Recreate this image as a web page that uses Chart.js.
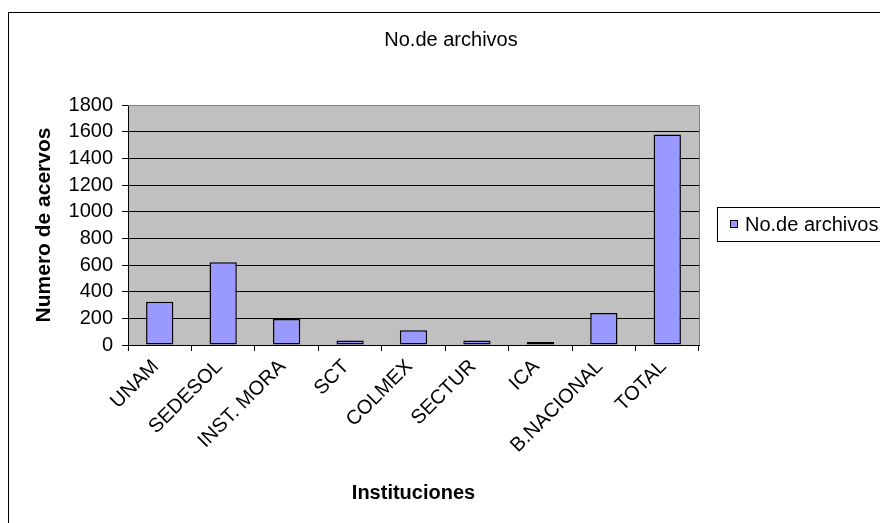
<!DOCTYPE html>
<html>
<head>
<meta charset="utf-8">
<script src="https://cdn.jsdelivr.net/npm/chart.js@4/dist/chart.umd.min.js"></script>
<style>
  html, body { margin: 0; padding: 0; background: #ffffff; }
  #wrap { width: 880px; height: 523px; }
</style>
</head>
<body>
<div id="wrap"><canvas id="canvas" width="880" height="523"></canvas></div>
<script>
var categories = ['UNAM', 'SEDESOL', 'INST. MORA', 'SCT', 'COLMEX', 'SECTUR', 'ICA', 'B.NACIONAL', 'TOTAL'];
var archivos = [325, 620, 195, 33, 110, 33, 22, 240, 1578];
var seriesName = 'No.de archivos';
var yTicks = [0, 200, 400, 600, 800, 1000, 1200, 1400, 1600, 1800];

var FONT = "'Liberation Sans', Arial, sans-serif";
var BAR_COLOR = '#9999FF';

// plot background, outer frame, title and legend drawn like the old spreadsheet chart
var frame = {
    id: 'frame',
    beforeDraw: function(chart) {
        var ctx = chart.ctx, a = chart.chartArea;
        ctx.save();
        ctx.fillStyle = '#ffffff';
        ctx.fillRect(0, 0, chart.width, chart.height);
        ctx.strokeStyle = '#000000';
        ctx.lineWidth = 1;
        ctx.strokeRect(8.5, 12.5, 1000, 1000);
        ctx.fillStyle = '#C0C0C0';
        ctx.fillRect(a.left, a.top, a.right - a.left, a.bottom - a.top);

        ctx.fillStyle = '#000000';
        ctx.font = '20px ' + FONT;
        ctx.textAlign = 'center';
        ctx.textBaseline = 'middle';
        ctx.fillText(seriesName, 451, 40);
        ctx.restore();
    },
    afterDraw: function(chart) {
        var ctx = chart.ctx, a = chart.chartArea;
        ctx.save();
        ctx.strokeStyle = '#808080';
        ctx.lineWidth = 1;
        ctx.beginPath();
        ctx.moveTo(a.left, a.top + 0.5);
        ctx.lineTo(a.right + 0.5, a.top + 0.5);
        ctx.lineTo(a.right + 0.5, a.bottom);
        ctx.stroke();

        // legend
        var lx = 717, ly = 207, lh = 34;
        ctx.strokeStyle = '#000000';
        ctx.strokeRect(lx + 0.5, ly + 0.5, 400, lh);
        var cy = ly + lh / 2;
        ctx.fillStyle = BAR_COLOR;
        ctx.fillRect(730, cy - 4, 8, 8);
        ctx.strokeRect(730.5, cy - 3.5, 7, 7);
        ctx.fillStyle = '#000000';
        ctx.font = '20px ' + FONT;
        ctx.textBaseline = 'middle';
        ctx.fillText(chart.data.datasets[0].label, 745, cy + 1);
        ctx.restore();
    }
};

var chart = new Chart(document.getElementById('canvas').getContext('2d'), {
    type: 'bar',
    data: {
        labels: categories,
        datasets: [{
            label: seriesName,
            data: archivos,
            backgroundColor: BAR_COLOR,
            borderColor: '#000000',
            borderWidth: 1.5,
            borderSkipped: false,
            barPercentage: 0.43,
            categoryPercentage: 1.0
        }]
    },
    options: {
        responsive: false,
        animation: false,
        layout: { padding: { left: 0, right: 181, top: 105, bottom: 0 } },
        plugins: {
            legend: { display: false },
            tooltip: { enabled: false },
            title: { display: false }
        },
        scales: {
            x: {
                grid: {
                    offset: true,
                    drawOnChartArea: false,
                    drawTicks: true,
                    tickLength: 6,
                    color: '#000000'
                },
                border: { color: '#000000', width: 1 },
                ticks: {
                    autoSkip: false,
                    minRotation: 45,
                    maxRotation: 45,
                    color: '#000000',
                    padding: 4,
                    labelOffset: -4,
                    font: { family: FONT, size: 20 }
                },
                title: {
                    display: true,
                    text: 'Instituciones',
                    color: '#000000',
                    font: { family: FONT, size: 20, weight: 'bold' },
                    padding: { top: 0, bottom: 18 }
                },
                afterFit: function(scale) { scale.height = 178; }
            },
            y: {
                min: 0,
                max: 1800,
                afterBuildTicks: function(scale) {
                    scale.ticks = yTicks.map(function(v) { return { value: v }; });
                },
                grid: {
                    color: '#000000',
                    tickLength: 6,
                    drawTicks: true
                },
                border: { color: '#000000', width: 1 },
                ticks: {
                    autoSkip: false,
                    color: '#000000',
                    padding: 9,
                    font: { family: FONT, size: 20 },
                    callback: function(v) { return String(v); }
                },
                title: {
                    display: true,
                    text: 'Numero de acervos',
                    color: '#000000',
                    font: { family: FONT, size: 21, weight: 'bold' },
                    padding: { top: 32, bottom: 0 }
                },
                afterFit: function(scale) { scale.width = 128; }
            }
        }
    },
    plugins: [frame]
});
</script>
</body>
</html>
